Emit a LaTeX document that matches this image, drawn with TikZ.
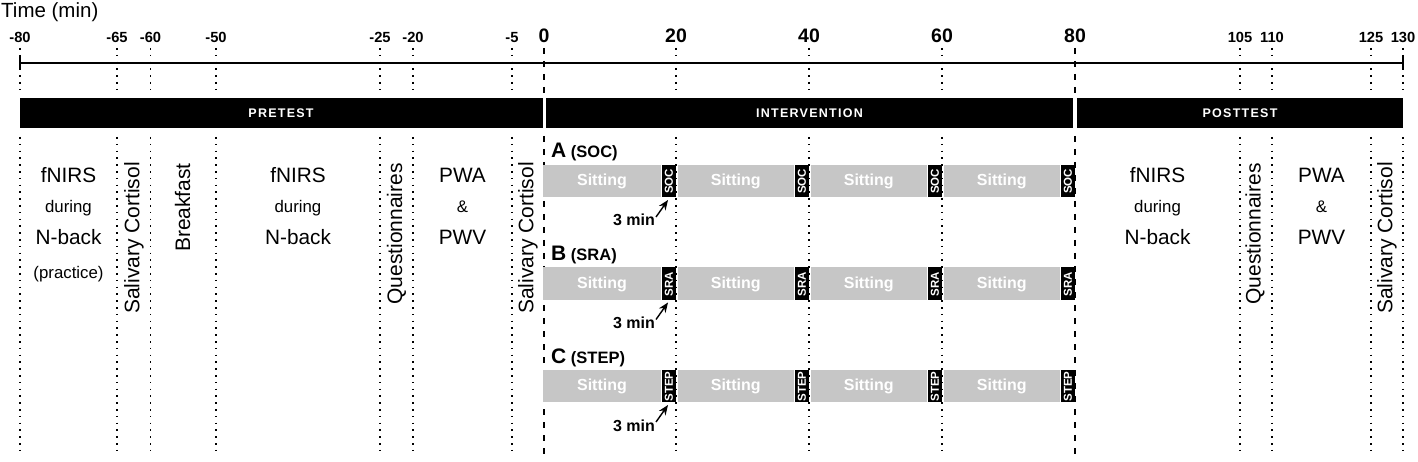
\documentclass[tikz,border=0pt]{standalone}
\usepackage{fontspec}
\setmainfont{Liberation Sans}
\usetikzlibrary{arrows.meta,calc}
\newcommand{\fsz}[1]{\fontsize{#1}{#1}\selectfont}
\definecolor{sitgray}{RGB}{198,198,198}
\begin{document}
\begin{tikzpicture}[x=1pt,y=-1pt,
  dotline/.style={line width=1.6pt, dash pattern=on 1.6pt off 5.2pt},
  dashline/.style={line width=1.8pt, dash pattern=on 6pt off 7pt},
  ticksm/.style={anchor=base, inner sep=0, font=\fsz{14.7}\bfseries},
  tickbg/.style={anchor=base, inner sep=0, font=\fsz{19.5}\bfseries},
  hdrtxt/.style={text=white, inner sep=0, font=\fsz{12.5}\bfseries\addfontfeature{LetterSpace=10}},
  bigtxt/.style={anchor=base, inner sep=0, font=\fsz{20.8}},
  smtxt/.style={anchor=base, inner sep=0, font=\fsz{16.8}},
  vtxt/.style={anchor=east, rotate=90, inner sep=0, font=\fsz{21}},
  sittxt/.style={text=white, inner sep=0, font=\fsz{16}\bfseries},
  boxtxt/.style={text=white, inner sep=0, rotate=90, font=\fsz{11.5}\bfseries},
  mintxt/.style={anchor=base east, inner sep=0, font=\fsz{16}\bfseries},
  arr/.style={line width=1.4pt, -{Stealth[length=10pt,width=8pt]}}
]
\fill[white] (0,0) rectangle (1418,462);
\useasboundingbox (0,0) rectangle (1418,462);

% title
\node[anchor=base west, inner sep=0, font=\fsz{20.5}] (ttl) at (1,18) {Time (min)};

% tick labels
\node[ticksm] (t1) at (20,43) {-80};
\node[ticksm] (t2) at (117,43) {-65};
\node[ticksm] (t3) at (150.5,43) {-60};
\node[ticksm] (t4) at (216,43) {-50};
\node[ticksm] (t5) at (380,43) {-25};
\node[ticksm] (t6) at (413,43) {-20};
\node[ticksm] (t7) at (512,43) {-5};
\node[tickbg] (t8) at (544,43) {0};
\node[tickbg] (t9) at (676,43) {20};
\node[tickbg] (t10) at (809,43) {40};
\node[tickbg] (t11) at (942,43) {60};
\node[tickbg] (t12) at (1075,43) {80};
\node[ticksm] (t13) at (1240,43) {105};
\node[ticksm] (t14) at (1272,43) {110};
\node[ticksm] (t15) at (1371,43) {125};
\node[ticksm] (t16) at (1403,43) {130};

% dotted and dashed guide lines
\foreach \x in {20,117,150.5,216,380,413,512,676,809,942,1240,1272,1371,1403} {
  \draw[dotline] (\x,48) -- (\x,92);
  \draw[dotline] (\x,137) -- (\x,455);
}
\foreach \x in {544,1075} {
  \draw[dashline] (\x,48) -- (\x,95);
  \draw[dashline] (\x,136) -- (\x,460);
}

% axis
\draw[line width=2.2pt] (20,63) -- (1403,63);
\draw[line width=2.8pt] (20,56) -- (20,70);
\draw[line width=2.8pt] (1403,56) -- (1403,70);

% phase bars
\fill[black] (20,98) rectangle (542.5,128.5);
\fill[black] (546,98) rectangle (1073,128.5);
\fill[black] (1077,98) rectangle (1403,128.5);
\node[hdrtxt] (pre) at (281,113.5) {PRETEST};
\node[hdrtxt] (int) at (809.5,113.5) {INTERVENTION};
\node[hdrtxt] (post) at (1240,113.5) {POSTTEST};

% pretest texts
\node[bigtxt] (fa1) at (68.5,183) {fNIRS};
\node[smtxt] (fa2) at (68.5,213) {during};
\node[bigtxt] (fa3) at (68.5,245) {N-back};
\node[smtxt] (fa4) at (68.5,278) {(practice)};
\node[vtxt] (sc1) at (134,162) {Salivary Cortisol};
\node[vtxt] (bf) at (182.5,163) {Breakfast};
\node[bigtxt] (fb1) at (298,183) {fNIRS};
\node[smtxt] (fb2) at (298,213) {during};
\node[bigtxt] (fb3) at (298,245) {N-back};
\node[vtxt] (q1) at (396.5,163) {Questionnaires};
\node[bigtxt] (pa1) at (462.5,183) {PWA};
\node[smtxt] (pa2) at (462.5,213) {\&};
\node[bigtxt] (pa3) at (462.5,245) {PWV};
\node[vtxt] (sc2) at (528,162) {Salivary Cortisol};

% posttest texts
\node[bigtxt] (fc1) at (1157.5,183) {fNIRS};
\node[smtxt] (fc2) at (1157.5,213) {during};
\node[bigtxt] (fc3) at (1157.5,245) {N-back};
\node[vtxt] (q2) at (1255,163) {Questionnaires};
\node[bigtxt] (pb1) at (1321.5,183) {PWA};
\node[smtxt] (pb2) at (1321.5,213) {\&};
\node[bigtxt] (pb3) at (1321.5,245) {PWV};
\node[vtxt] (sc3) at (1387,162) {Salivary Cortisol};

% intervention rows
\foreach \r/\L/\S in {0/A/SOC,1/B/SRA,2/C/STEP} {
  \pgfmathsetmacro{\yt}{165+102.5*\r}
  \pgfmathsetmacro{\yb}{\yt+32}
  \pgfmathsetmacro{\ym}{\yt+16.5}
  \foreach \a/\b [count=\i] in {543/676,677.5/809,810.5/942,943.5/1075} {
    \fill[sitgray] (\a,\yt) rectangle (\b-15,\yb);
    \fill[black] (\b-14,\yt) rectangle (\b,\yb);
    \node[sittxt] (sit\r-\i) at ({(\a+\b-15)/2},\ym) {Sitting};
    \node[boxtxt] (box\r-\i) at (\b-7,\ym) {\S};
  }
  \node[anchor=base west, inner sep=0] (lbl\r) at (551,\yt-7)
    {{\fsz{21}\bfseries \L}\fsz{16.5}\bfseries\ (\S)};
  \node[mintxt] (min\r) at (655,\yt+61) {3 min};
  \coordinate (tail\r) at (656,\yt+52);
  \coordinate (tip\r) at (668,\yt+35);
  \draw[arr] (tail\r) -- (tip\r);
}
\end{tikzpicture}
\end{document}
